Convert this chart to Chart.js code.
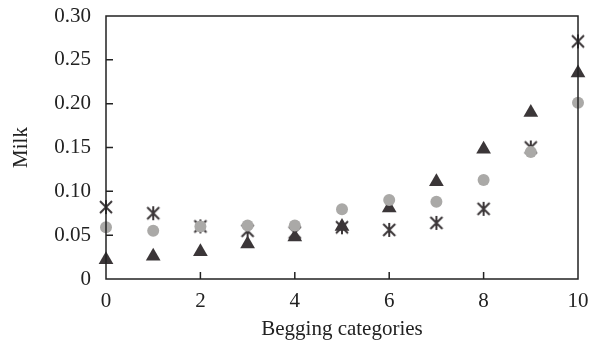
<!DOCTYPE html>
<html>
<head>
<meta charset="utf-8">
<script src="https://cdn.jsdelivr.net/npm/chart.js@4"></script>
<style>
  html, body { margin: 0; padding: 0; background: #fff; }
  #wrap { width: 595px; height: 342px; }
</style>
</head>
<body>
<div id="wrap"><canvas id="chart"></canvas></div>
<script>
// begging categories and milk values
const categories = [0, 1, 2, 3, 4, 5, 6, 7, 8, 9, 10];
const circleVals = [0.059, 0.055, 0.060, 0.061, 0.061, 0.0795, 0.090, 0.088, 0.113, 0.145, 0.201];
const triangleVals = [0.022, 0.026, 0.031, 0.040, 0.048, 0.060, 0.081, 0.111, 0.148, 0.190, 0.235];
const starVals = [0.082, 0.075, 0.060, 0.055, 0.053, 0.059, 0.056, 0.064, 0.080, 0.150, 0.271];
const yTickLabels = ["0", "0.05", "0.10", "0.15", "0.20", "0.25", "0.30"];

const dark = "#3b3638";
const grey = "#aaa9a7";
const font = "'Liberation Serif', 'Times New Roman', serif";

// asterisk marker: X with a vertical bar
function makeStar() {
    const c = document.createElement("canvas");
    c.width = 16; c.height = 16;
    const g = c.getContext("2d");
    g.strokeStyle = dark;
    g.lineWidth = 2;
    g.beginPath();
    g.moveTo(2, 2); g.lineTo(14, 14);
    g.moveTo(14, 2); g.lineTo(2, 14);
    g.moveTo(8, 1); g.lineTo(8, 15);
    g.stroke();
    return c;
}

const toPoints = vals => vals.map((v, i) => ({ x: categories[i], y: v }));

// frame + inward tick marks
const framePlugin = {
    id: "frame",
    afterDraw(chart) {
        const { ctx, chartArea: a, scales } = chart;
        ctx.save();
        ctx.strokeStyle = "#222";
        ctx.lineWidth = 1.5;
        ctx.strokeRect(a.left, a.top, a.right - a.left, a.bottom - a.top);
        ctx.beginPath();
        scales.y.ticks.forEach(t => {
            const y = scales.y.getPixelForValue(t.value);
            if (y <= a.top + 1 || y >= a.bottom - 1) return;
            ctx.moveTo(a.left, y); ctx.lineTo(a.left + 7, y);
        });
        scales.x.ticks.forEach(t => {
            const x = scales.x.getPixelForValue(t.value);
            if (x <= a.left + 1 || x >= a.right - 1) return;
            ctx.moveTo(x, a.bottom); ctx.lineTo(x, a.bottom - 7);
        });
        ctx.stroke();
        ctx.restore();
    }
};

const ctx = document.getElementById("chart").getContext("2d");
new Chart(ctx, {
    type: "scatter",
    data: {
        datasets: [
            {
                label: "circle",
                data: toPoints(circleVals),
                pointStyle: "circle",
                pointRadius: 6,
                backgroundColor: grey,
                borderColor: grey,
                borderWidth: 0,
                order: 1,
                clip: false
            },
            {
                label: "triangle",
                data: toPoints(triangleVals),
                pointStyle: "triangle",
                pointRadius: 8.5,
                backgroundColor: dark,
                borderColor: dark,
                borderWidth: 0,
                order: 2,
                clip: false
            },
            {
                label: "star",
                data: toPoints(starVals),
                pointStyle: makeStar(),
                pointRadius: 7,
                order: 3,
                clip: false
            }
        ]
    },
    options: {
        responsive: true,
        maintainAspectRatio: false,
        animation: false,
        layout: { padding: { top: 16, right: 17, left: 0, bottom: 0 } },
        plugins: {
            legend: { display: false },
            tooltip: { enabled: false }
        },
        scales: {
            x: {
                type: "linear",
                min: 0,
                max: 10,
                grid: { display: false, drawTicks: false },
                border: { display: false },
                ticks: {
                    stepSize: 2,
                    padding: 10,
                    color: "#222",
                    font: { family: font, size: 21 },
                    maxRotation: 0
                },
                title: {
                    display: true,
                    text: "Begging categories",
                    color: "#222",
                    font: { family: font, size: 21, lineHeight: 1.2 },
                    padding: { top: 0, bottom: 0 }
                },
                afterFit(scale) {
                    scale.height = 63;
                    scale.paddingLeft = 0;
                    scale.paddingRight = 0;
                }
            },
            y: {
                min: 0,
                max: 0.3,
                grid: { display: false, drawTicks: false },
                border: { display: false },
                ticks: {
                    stepSize: 0.05,
                    padding: 15,
                    color: "#222",
                    font: { family: font, size: 21 },
                    callback: (v, i) => yTickLabels[i]
                },
                title: {
                    display: true,
                    text: "Milk",
                    color: "#222",
                    font: { family: font, size: 21, lineHeight: 1.2 },
                    padding: { top: 9, bottom: 0 }
                },
                afterFit(scale) {
                    scale.width = 106;
                    scale.paddingTop = 0;
                    scale.paddingBottom = 0;
                }
            }
        }
    },
    plugins: [framePlugin]
});
</script>
</body>
</html>
